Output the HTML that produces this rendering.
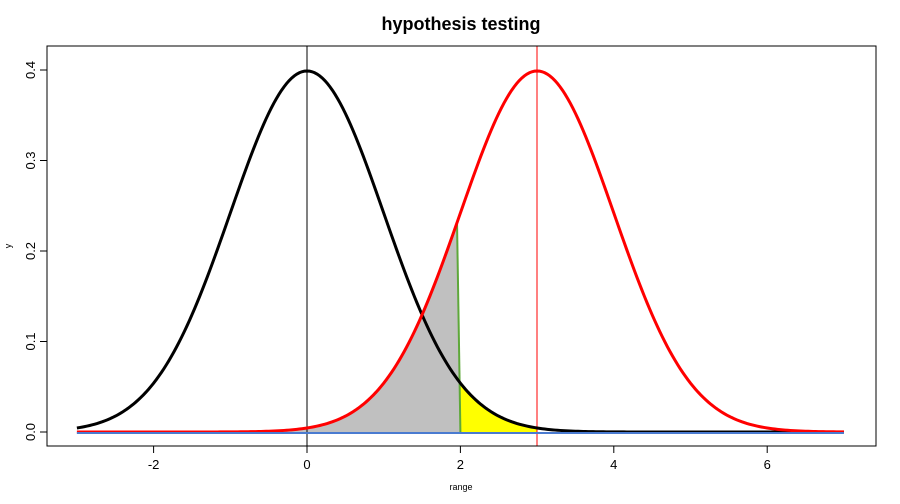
<!DOCTYPE html>
<html><head><meta charset="utf-8"><style>
html,body{margin:0;padding:0;background:#fff;}
svg{display:block;font-family:"Liberation Sans",Arial,sans-serif;}
</style></head><body>
<svg id="s" width="900" height="504" viewBox="0 0 900 504" xmlns="http://www.w3.org/2000/svg">
<rect width="900" height="504" fill="#fff"/>
<text x="461" y="30" text-anchor="middle" font-size="18" font-weight="bold">hypothesis testing</text>
<g id="fills"></g>
<line x1="307" y1="46" x2="307" y2="446" stroke="#000" stroke-width="1"/>
<line x1="537" y1="46" x2="537" y2="446" stroke="#ff0000" stroke-width="1"/>
<g id="curves"></g>
<rect x="47" y="46" width="829" height="400" fill="none" stroke="#000" stroke-width="1"/>
<g stroke="#000" stroke-width="1">
<line x1="153.6" y1="446" x2="153.6" y2="453"/><line x1="307" y1="446" x2="307" y2="453"/>
<line x1="460.4" y1="446" x2="460.4" y2="453"/><line x1="613.8" y1="446" x2="613.8" y2="453"/>
<line x1="767.2" y1="446" x2="767.2" y2="453"/>
<line x1="47" y1="432" x2="40" y2="432"/><line x1="47" y1="341.5" x2="40" y2="341.5"/>
<line x1="47" y1="251" x2="40" y2="251"/><line x1="47" y1="160.5" x2="40" y2="160.5"/>
<line x1="47" y1="70" x2="40" y2="70"/>
</g>
<g font-size="13" text-anchor="middle">
<text x="153.6" y="469">-2</text><text x="307" y="469">0</text><text x="460.4" y="469">2</text>
<text x="613.8" y="469">4</text><text x="767.2" y="469">6</text>
<text transform="translate(35,432) rotate(-90)">0.0</text>
<text transform="translate(35,341.5) rotate(-90)">0.1</text>
<text transform="translate(35,251) rotate(-90)">0.2</text>
<text transform="translate(35,160.5) rotate(-90)">0.3</text>
<text transform="translate(35,70) rotate(-90)">0.4</text>
</g>
<text x="461" y="490" text-anchor="middle" font-size="9">range</text>
<text transform="translate(11,246) rotate(-90)" text-anchor="middle" font-size="9">y</text>
</svg>
<script>
(function(){
var NS="http://www.w3.org/2000/svg";
function X(x){return 307+76.7*x;}
function Y(y){return 432-905*y;}
function d(x,m){return Math.exp(-(x-m)*(x-m)/2)/Math.sqrt(2*Math.PI);}
function pts(a,b,m){var s=[];for(var i=0;i<=300;i++){var x=a+(b-a)*i/300;s.push(X(x).toFixed(2)+","+Y(d(x,m)).toFixed(2));}return s;}
function el(p,n,attrs){var e=document.createElementNS(NS,n);for(var k in attrs)e.setAttribute(k,attrs[k]);p.appendChild(e);return e;}
var F=document.getElementById("fills"),C=document.getElementById("curves");
var g=pts(-3,1.956,3);g.unshift(X(-3)+","+Y(0));g.push(X(2)+","+Y(0));
el(F,"polygon",{points:g.join(" "),fill:"#c0c0c0"});
var yv=pts(2,3,0);yv.unshift(X(2)+","+Y(0));yv.push(X(3)+","+Y(0));
el(F,"polygon",{points:yv.join(" "),fill:"#ffff00"});
el(C,"line",{x1:X(1.956),y1:Y(d(1.956,3)),x2:X(2),y2:Y(0),stroke:"#5ea83a","stroke-width":2});
el(C,"polyline",{points:pts(-3,7,0).join(" "),fill:"none",stroke:"#000","stroke-width":3});
el(C,"polyline",{points:pts(-3,7,3).join(" "),fill:"none",stroke:"#ff0000","stroke-width":3});
el(C,"line",{x1:X(-3),y1:433,x2:X(7),y2:433,stroke:"#4a7bd0","stroke-width":2});
})();
</script>
</body></html>
